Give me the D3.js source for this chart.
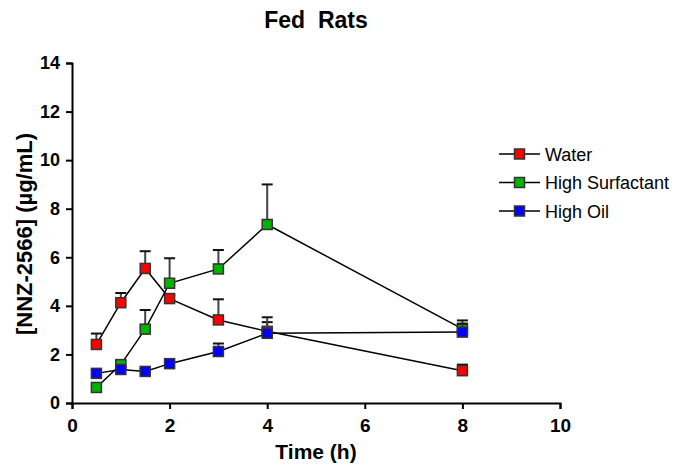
<!DOCTYPE html>
<html>
<head>
<meta charset="utf-8">
<script src="https://cdn.jsdelivr.net/npm/d3@7"></script>
<style>
  body { margin: 0; background: #fff; }
  text { font-family: Arial, "Liberation Sans", sans-serif; }
</style>
</head>
<body>
<div id="chart"></div>
<script>
// data
const seriesNames = ["Water", "High Surfactant", "High Oil"];
const seriesColors = ["#ff0000", "#00b400", "#0000ff"];
const times = [0.5, 1, 1.5, 2, 3, 4, 8];
const waterMean = [2.41, 4.13, 5.54, 4.30, 3.42, 2.95, 1.33];
const waterSem = [0.45, 0.40, 0.71, 0.15, 0.85, 0.38, 0.25];
const surfMean = [0.64, 1.58, 3.04, 4.93, 5.52, 7.35, 3.05];
const surfSem = [0.10, 0.15, 0.79, 1.03, 0.78, 1.65, 0.35];
const oilMean = [1.22, 1.38, 1.30, 1.62, 2.12, 2.87, 2.92];
const oilSem = [0.10, 0.10, 0.10, 0.10, 0.33, 0.66, 0.35];
const xTicks = [0, 2, 4, 6, 8, 10];
const yTicks = [0, 2, 4, 6, 8, 10, 12, 14];

const width = 681, height = 469;
const margin = {top: 63, right: 121, bottom: 66, left: 72};

const svg = d3.select("#chart")
  .append("svg")
    .attr("width", width)
    .attr("height", height);

const x = d3.scaleLinear().domain([0, 10]).range([margin.left, width - margin.right]);
const y = d3.scaleLinear().domain([0, 14]).range([height - margin.bottom, margin.top]);

// axes
const xAxis = svg.append("g")
    .attr("transform", `translate(0,${y(0)})`)
    .call(d3.axisBottom(x).tickValues(xTicks).tickSize(6).tickPadding(10));
const yAxis = svg.append("g")
    .attr("transform", `translate(${x(0)},0)`)
    .call(d3.axisLeft(y).tickValues(yTicks).tickSize(6).tickPadding(6));
[xAxis, yAxis].forEach(a => {
  a.select(".domain").attr("stroke", "#000").attr("stroke-width", 2);
  a.selectAll(".tick line").attr("stroke", "#000").attr("stroke-width", 2);
  a.selectAll(".tick text")
    .attr("fill", "#000")
    .style("font-weight", "bold")
    .style("font-family", "Arial, 'Liberation Sans', sans-serif");
});
xAxis.selectAll(".tick text").style("font-size", "19px");
yAxis.selectAll(".tick text").style("font-size", "18px");

// titles
svg.append("text")
    .attr("x", 316).attr("y", 28)
    .attr("text-anchor", "middle")
    .style("font-size", "23px").style("font-weight", "bold")
    .style("white-space", "pre")
    .text("Fed  Rats");
svg.append("text")
    .attr("x", 316).attr("y", 459)
    .attr("text-anchor", "middle")
    .style("font-size", "21px").style("font-weight", "bold")
    .text("Time (h)");
svg.append("text")
    .attr("transform", "translate(32,234) rotate(-90)")
    .attr("text-anchor", "middle")
    .style("font-size", "22px").style("font-weight", "bold")
    .text("[NNZ-2566] (µg/mL)");

// series
const series = [
  {name: seriesNames[0], color: seriesColors[0], mean: waterMean, sem: waterSem},
  {name: seriesNames[1], color: seriesColors[1], mean: surfMean, sem: surfSem},
  {name: seriesNames[2], color: seriesColors[2], mean: oilMean, sem: oilSem}
];
const line = d3.line().x(d => x(d.t)).y(d => y(d.v));
const ms = 10;

series.forEach(s => {
  const pts = times.map((t, i) => ({t: t, v: s.mean[i], e: s.sem[i]}));
  const g = svg.append("g");
  g.append("path")
      .datum(pts)
      .attr("d", line)
      .attr("fill", "none")
      .attr("stroke", "#000")
      .attr("stroke-width", 1.5);
  g.selectAll(".err")
    .data(pts)
    .join("line")
      .attr("x1", d => x(d.t)).attr("x2", d => x(d.t))
      .attr("y1", d => y(d.v)).attr("y2", d => y(d.v + d.e))
      .attr("stroke", "#444").attr("stroke-width", 2);
  g.selectAll(".cap")
    .data(pts)
    .join("line")
      .attr("x1", d => x(d.t) - 5.5).attr("x2", d => x(d.t) + 5.5)
      .attr("y1", d => y(d.v + d.e)).attr("y2", d => y(d.v + d.e))
      .attr("stroke", "#111").attr("stroke-width", 2);
  g.selectAll(".pt")
    .data(pts)
    .join("rect")
      .attr("x", d => x(d.t) - ms / 2)
      .attr("y", d => y(d.v) - ms / 2)
      .attr("width", ms).attr("height", ms)
      .attr("fill", s.color)
      .attr("stroke", "#333").attr("stroke-width", 1.5);
});

// legend
const legend = svg.append("g");
series.forEach((s, i) => {
  const ly = 154 + i * 28.5;
  legend.append("line")
      .attr("x1", 499).attr("x2", 540).attr("y1", ly).attr("y2", ly)
      .attr("stroke", "#000").attr("stroke-width", 1.5);
  legend.append("rect")
      .attr("x", 519.5 - 5).attr("y", ly - 5)
      .attr("width", 10).attr("height", 10)
      .attr("fill", s.color).attr("stroke", "#333").attr("stroke-width", 1.5);
  legend.append("text")
      .attr("x", 545).attr("y", ly + 6.5)
      .style("font-size", "18px")
      .text(s.name);
});
</script>
</body>
</html>
